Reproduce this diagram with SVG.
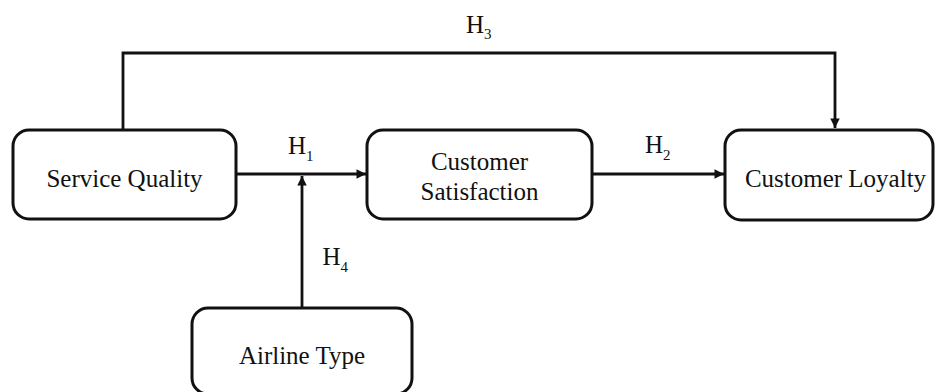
<svg xmlns="http://www.w3.org/2000/svg" width="936" height="392" viewBox="0 0 936 392">
<style>
.box{fill:#fff;stroke:#111;stroke-width:3}
.ln{fill:none;stroke:#111;stroke-width:2.8}
text{font-family:"Liberation Serif","Times New Roman",serif;font-size:25px;fill:#111}
.t{text-anchor:middle}
.s{font-size:15px}
</style>
<defs>
<marker id="ah" viewBox="0 0 10 10" refX="10" refY="5" markerWidth="3.4" markerHeight="3.4" orient="auto" markerUnits="strokeWidth">
<path d="M0,0 L10,5 L0,10 z" fill="#111"/>
</marker>
</defs>
<rect width="936" height="392" fill="#fff"/>
<g id="connectors">
<path class="ln" d="M123,130 V53 H835 V128" marker-end="url(#ah)"/>
<path class="ln" d="M236,174 H366" marker-end="url(#ah)"/>
<path class="ln" d="M302,308 V176" marker-end="url(#ah)"/>
<path class="ln" d="M592,174 H724" marker-end="url(#ah)"/>
<text x="466" y="32.5">H<tspan class="s" dy="6.5">3</tspan></text>
<text x="288" y="154">H<tspan class="s" dy="6.5">1</tspan></text>
<text x="645" y="153">H<tspan class="s" dy="6.5">2</tspan></text>
<text x="322.5" y="265">H<tspan class="s" dy="6.5">4</tspan></text>
</g>
<g id="service-quality">
<rect class="box" x="13" y="130" width="223" height="89" rx="16"/>
<text class="t" x="124.5" y="186.5">Service Quality</text>
</g>
<g id="customer-satisfaction">
<rect class="box" x="367" y="130" width="225" height="89" rx="16"/>
<text class="t" x="479.5" y="170">Customer</text>
<text class="t" x="479.5" y="200">Satisfaction</text>
</g>
<g id="customer-loyalty">
<rect class="box" x="725" y="130" width="208" height="90" rx="16"/>
<text class="t" x="835.5" y="186.5">Customer Loyalty</text>
</g>
<g id="airline-type">
<rect class="box" x="192" y="308" width="220" height="86" rx="16"/>
<text class="t" x="302" y="364">Airline Type</text>
</g>
</svg>
